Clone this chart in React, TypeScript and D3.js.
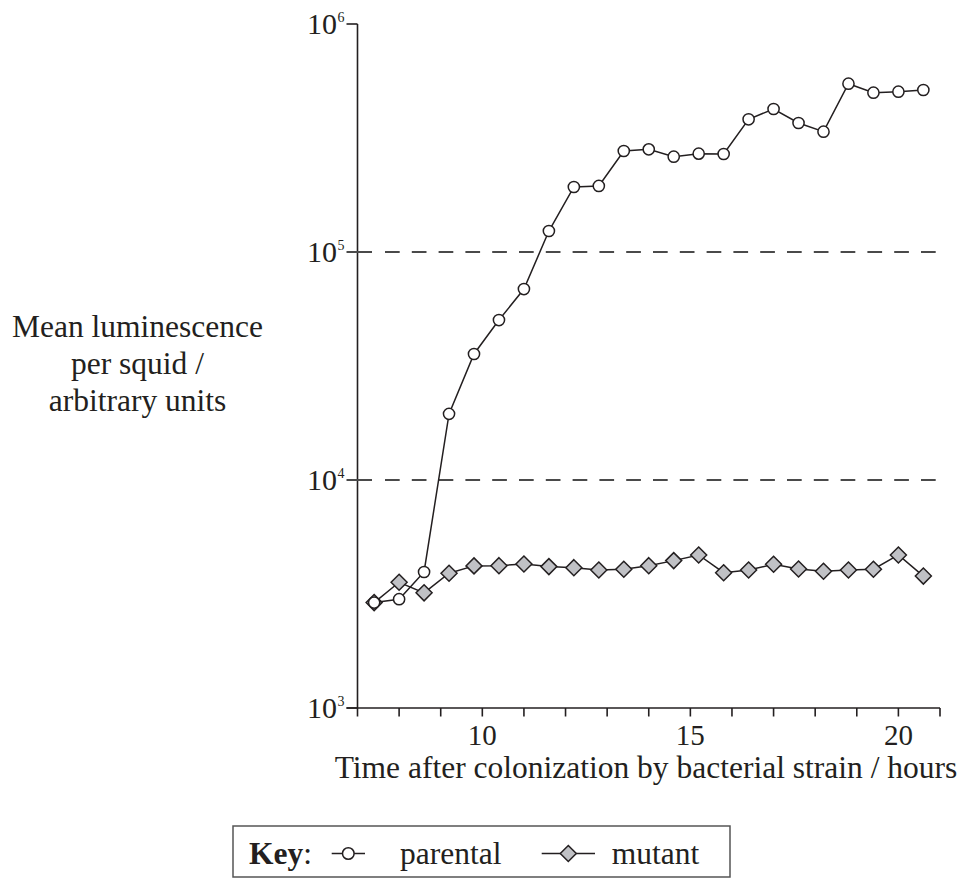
import React from "react";
import * as d3 from "d3";

const times = [7.4, 8.0, 8.6, 9.2, 9.8, 10.4, 11.0, 11.6, 12.2, 12.8, 13.4, 14.0, 14.6, 15.2, 15.8, 16.4, 17.0, 17.6, 18.2, 18.8, 19.4, 20.0, 20.6];
const parental = [2900, 3000, 3950, 19500, 35700, 50300, 68800, 123600, 192800, 194800, 277300, 282100, 261800, 269900, 269100, 382000, 423900, 367900, 337000, 547200, 499600, 504700, 513400];
const mutant = [2900, 3560, 3200, 3900, 4200, 4210, 4280, 4170, 4125, 4030, 4060, 4210, 4430, 4690, 3920, 4030, 4270, 4070, 3980, 4030, 4060, 4690, 3790];
const xTickValues = [7, 8, 9, 10, 11, 12, 13, 14, 15, 16, 17, 18, 19, 20, 21];
const xTickLabels = [10, 15, 20];
const yTickValues = [1e3, 1e4, 1e5, 1e6];
const yTickExponents = ["3", "4", "5", "6"];
const gridValues = [1e4, 1e5];
const yLabelLines = ["Mean luminescence", "per squid /", "arbitrary units"];
const xLabel = "Time after colonization by bacterial strain / hours";

const INK = "#231f20";
const FONT = "'Liberation Serif', 'Times New Roman', serif";

export default function App() {
  const x = d3.scaleLinear().domain([7, 21]).range([357.5, 940]);
  const y = d3.scaleLog().domain([1e3, 1e6]).range([708, 24]);

  const pData = times.map((t, i) => ({ t, v: parental[i] }));
  const mData = times.map((t, i) => ({ t, v: mutant[i] }));
  const line = d3
    .line<{ t: number; v: number }>()
    .x((d) => x(d.t))
    .y((d) => y(d.v));

  const diamond = (cx: number, cy: number, h: number) =>
    `M${cx},${cy - h}L${cx + h},${cy}L${cx},${cy + h}L${cx - h},${cy}Z`;

  const axisLeft = x(7);
  const axisBottom = y(1e3);

  return (
    <svg
      width={960}
      height={879}
      style={{ position: "absolute", left: 0, top: 0, background: "#fff" }}
      fontFamily={FONT}
    >
      <rect x={0} y={0} width={960} height={879} fill="#fff" />
      {/* dashed gridlines */}
      {gridValues.map((v) => (
        <line
          key={"g" + v}
          x1={385}
          x2={940}
          y1={y(v)}
          y2={y(v)}
          stroke="#4a4a4a"
          strokeWidth={2}
          strokeDasharray="14.7 12.1"
        />
      ))}
      {/* y axis */}
      <line x1={axisLeft} x2={axisLeft} y1={y(1e6)} y2={axisBottom} stroke={INK} strokeWidth={1.6} />
      {yTickValues.map((v, i) => {
        const inner = v === 1e4 || v === 1e5;
        return (
          <g key={"yt" + v}>
            <line
              x1={346.5}
              x2={inner ? 372 : axisLeft}
              y1={y(v)}
              y2={y(v)}
              stroke={inner ? "#4a4a4a" : INK}
              strokeWidth={inner ? 2 : 1.6}
            />
            <text x={337} y={y(v) + 10} textAnchor="end" fontSize={30} fill={INK}>
              10
            </text>
            <text x={337.5} y={y(v) - 2.5} textAnchor="start" fontSize={14} fill={INK}>
              {yTickExponents[i]}
            </text>
          </g>
        );
      })}
      {/* x axis */}
      <line x1={346.5} x2={940} y1={axisBottom} y2={axisBottom} stroke={INK} strokeWidth={1.6} />
      {xTickValues.map((t) => (
        <line key={"xt" + t} x1={x(t)} x2={x(t)} y1={axisBottom} y2={axisBottom + 8.5} stroke={INK} strokeWidth={1.6} />
      ))}
      {xTickLabels.map((t) => (
        <text key={"xl" + t} x={x(t)} y={745} textAnchor="middle" fontSize={29} fill={INK}>
          {t}
        </text>
      ))}
      <text x={646} y={778} textAnchor="middle" fontSize={31.5} fill={INK}>
        {xLabel}
      </text>
      {yLabelLines.map((s, i) => (
        <text key={"yl" + i} x={137.5} y={337 + i * 37} textAnchor="middle" fontSize={31.5} fill={INK}>
          {s}
        </text>
      ))}
      {/* mutant series */}
      <path d={line(mData) || ""} fill="none" stroke={INK} strokeWidth={1.5} />
      {mData.map((d, i) => (
        <path key={"m" + i} d={diamond(x(d.t), y(d.v), 8)} fill="#c0c1c5" stroke={INK} strokeWidth={1.5} strokeLinejoin="miter" />
      ))}
      {/* parental series */}
      <path d={line(pData) || ""} fill="none" stroke={INK} strokeWidth={1.5} />
      {pData.map((d, i) => (
        <circle key={"p" + i} cx={x(d.t)} cy={y(d.v)} r={5.6} fill="#fff" stroke={INK} strokeWidth={1.5} />
      ))}
      {/* legend */}
      <rect x={233} y={826} width={497} height={51} fill="#fff" stroke="#555" strokeWidth={1.5} />
      <text x={249} y={864} fontSize={31.5} fill={INK}>
        <tspan fontWeight="bold">Key</tspan>:
      </text>
      <line x1={331.7} x2={365} y1={853.5} y2={853.5} stroke={INK} strokeWidth={1.5} />
      <circle cx={348.3} cy={853.5} r={5.8} fill="#fff" stroke={INK} strokeWidth={1.5} />
      <text x={400} y={864} fontSize={31.5} fill={INK}>
        parental
      </text>
      <line x1={541.7} x2={595} y1={853.5} y2={853.5} stroke={INK} strokeWidth={1.5} />
      <path d={diamond(568.3, 853.5, 8)} fill="#c0c1c5" stroke={INK} strokeWidth={1.5} />
      <text x={611.7} y={864} fontSize={31.5} fill={INK}>
        mutant
      </text>
    </svg>
  );
}
